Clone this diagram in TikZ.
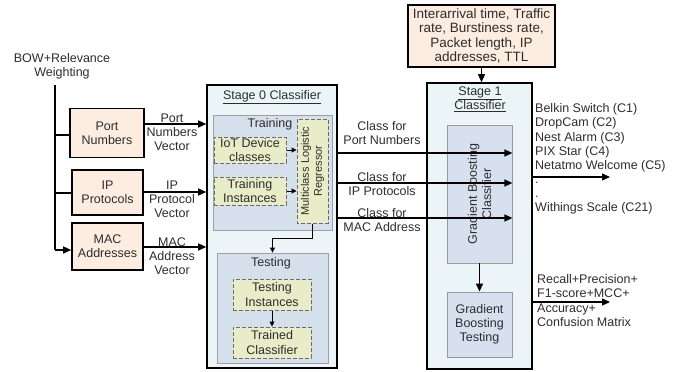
\documentclass[tikz,border=0pt]{standalone}
\usepackage{fontspec}
\setmainfont{Liberation Sans}
\usetikzlibrary{arrows.meta}

\definecolor{peach}{RGB}{252,237,224}
\definecolor{stagefill}{RGB}{235,245,248}
\definecolor{phasefill}{RGB}{214,224,237}
\definecolor{dashfill}{RGB}{232,237,200}
\definecolor{gbfill}{RGB}{214,224,238}
\definecolor{ink}{RGB}{45,45,45}

\tikzset{
  every node/.style={font=\fontsize{12.5}{14.2}\selectfont, text=ink},
  feat/.style={draw=black, line width=1.6pt, fill=peach, align=center, inner sep=1pt},
  stagebox/.style={draw=black, line width=1.6pt, fill=stagefill, inner sep=0pt},
  phase/.style={draw=gray!75, line width=0.8pt, fill=phasefill, inner sep=0pt},
  dbox/.style={draw=gray!85!black, dashed, dash pattern=on 4pt off 2pt, line width=1pt, fill=dashfill, align=center, inner sep=1pt},
  gbox/.style={draw=gray!80, line width=0.8pt, fill=gbfill, align=center, inner sep=1pt},
  lbl/.style={align=center, inner sep=0pt},
  wire/.style={line width=1.4pt, draw=black},
  arr/.style={line width=1.4pt, draw=black, -{Triangle[length=8pt,width=7pt]}},
  sarr/.style={line width=1pt, draw=black, -{Triangle[length=5pt,width=5pt]}},
}

\begin{document}
\begin{tikzpicture}[x=1pt, y=-1pt]
\useasboundingbox (0,0) rectangle (689,372);

% feature extraction input
\node[lbl] (bow) at (62,66) {BOW+Relevance\\Weighting};
\coordinate (trunk) at (55,85);

\node[feat, minimum width=74pt, minimum height=49pt] (port) at (107,133) {Port\\Numbers};
\node[feat, minimum width=71pt, minimum height=45pt] (ip) at (107.5,192.5) {IP\\Protocols};
\node[feat, minimum width=71pt, minimum height=47pt] (mac) at (107.5,246.5) {MAC\\Addresses};

% stage 0
\node[stagebox, minimum width=130pt, minimum height=283pt] (s0) at (272,226.5) {};
\node[lbl] (s0title) at (272,97) {\underline{Stage 0 Classifier}};

\node[phase, minimum width=119pt, minimum height=115pt] (train) at (272.5,172.5) {};
\node[lbl] (trainlbl) at (270,124) {Training};
\node[dbox, minimum width=72pt, minimum height=26pt] (iot) at (250,150) {IoT Device\\classes};
\node[dbox, minimum width=72pt, minimum height=28pt] (tinst) at (250,191) {Training\\Instances};
\node[dbox, rotate=90, minimum width=104pt, minimum height=31pt,
      font=\fontsize{11}{13}\selectfont] (reg) at (312.5,171) {Multiclass Logistic\\Regressor};

\node[phase, minimum width=111pt, minimum height=110pt] (test) at (272.5,308) {};
\node[lbl] (testlbl) at (271,263) {Testing};
\node[dbox, minimum width=78pt, minimum height=31pt] (testinst) at (272,294.5) {Testing\\Instances};
\node[dbox, minimum width=78pt, minimum height=31pt] (trained) at (272,342.5) {Trained\\Classifier};

% stage 1
\node[feat, minimum width=147pt, minimum height=62pt, font=\fontsize{13.5}{14.3}\selectfont] (feat1) at (481.5,36)
  {Interarrival time, Traffic\\rate, Burstiness rate,\\Packet length, IP\\addresses, TTL};
\node[stagebox, minimum width=105pt, minimum height=286pt] (s1) at (479.5,226) {};
\node[lbl] (s1title) at (480,99) {\underline{Stage 1}\\\underline{Classifier}};
\node[gbox, rotate=90, minimum width=138pt, minimum height=65pt] (gbc) at (479.5,194) {Gradient Boosting\\Classifier};
\node[gbox, minimum width=65pt, minimum height=65pt] (gbt) at (479.5,324.5) {Gradient\\Boosting\\Testing};

% feature vectors into stage 0
\draw[wire] (trunk) -- (trunk |- 0,250) coordinate (tbot);
\draw[wire] (trunk |- 0,135) -- (port.west |- 0,135);
\draw[wire] (trunk |- 0,193) -- (ip.west |- 0,193);
\draw[arr] (tbot) -- (mac.west |- tbot);

\draw[arr] (port.east |- 0,124) -- (s0.west |- 0,124);
\draw[arr] (ip.east |- 0,192) -- (s0.west |- 0,192);
\draw[arr] (mac.east |- 0,247) -- (s0.west |- 0,247);
\node[lbl] (pv) at (172,132) {Port\\Numbers\\Vector};
\node[lbl] (iv) at (172,199) {IP\\Protocol\\Vector};
\node[lbl] (mv) at (172,256) {MAC\\Address\\Vector};

% stage 0 internals
\draw[sarr] (iot.east) -- (iot.east -| reg.north);
\draw[sarr] (tinst.east) -- (tinst.east -| reg.north);
\draw[sarr] (reg.west) -- ++(0,15) -| (test.north);
\draw[sarr] (testinst.south) -- (trained.north);

% stage 0 outputs into stage 1
\draw[arr] (feat1.south) -- (feat1.south |- s1.north);
\draw[arr] (s0.east |- 0,153) -- (gbc.south |- 0,153);
\draw[arr] (s0.east |- 0,183) -- (gbc.south |- 0,183);
\draw[arr] (s0.east |- 0,218) -- (gbc.south |- 0,218);
\node[lbl] (c1) at (382,133) {Class for\\Port Numbers};
\node[lbl] (c2) at (382,184) {Class for\\IP Protocols};
\node[lbl] (c3) at (382,220) {Class for\\MAC Address};

\draw[arr] (gbc.west) -- (gbt.north);

% results
\coordinate (o1) at (610,177);
\coordinate (o2) at (610,302);
\draw[arr] (s1.east |- o1) -- (o1);
\draw[arr] (s1.east |- o2) -- (o2);
\node[lbl, align=left, anchor=west, font=\fontsize{12.5}{14.1}\selectfont] (devices) at (535,159)
  {Belkin Switch (C1)\\DropCam (C2)\\Nest Alarm (C3)\\PIX Star (C4)\\Netatmo Welcome (C5)\\.\\.\\Withings Scale (C21)};
\node[lbl, align=left, anchor=west] (metrics) at (537,300.5)
  {Recall+Precision+\\F1-score+MCC+\\Accuracy+\\Confusion Matrix};
\end{tikzpicture}
\end{document}
